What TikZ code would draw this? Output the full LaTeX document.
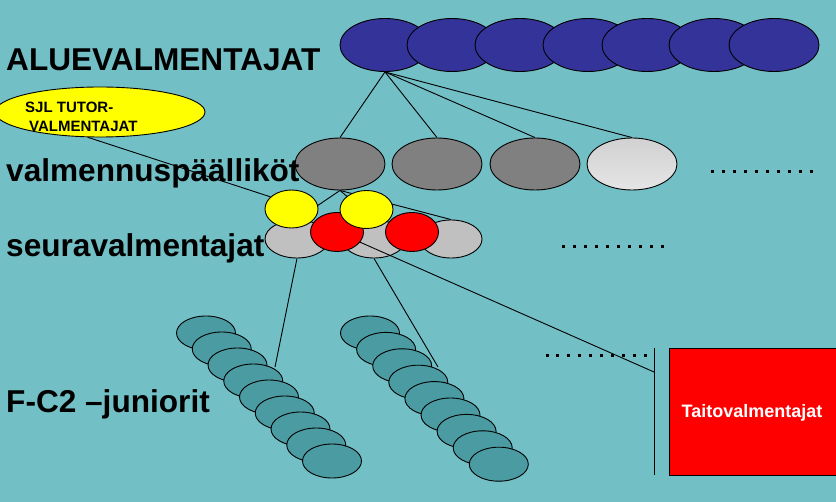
\documentclass[tikz,border=0pt]{standalone}
\usepackage{fontspec}
\setmainfont{Liberation Sans}
\usetikzlibrary{shapes.geometric}
\pgfdeclarelayer{bglayer}
\pgfdeclarelayer{edgelayer}
\pgfsetlayers{bglayer,edgelayer,main}
\definecolor{bgc}{HTML}{72BFC6}
\definecolor{bluec}{HTML}{333399}
\definecolor{grayc}{HTML}{808080}
\definecolor{silverc}{HTML}{C0C0C0}
\definecolor{lightc}{HTML}{DADADA}
\definecolor{tealc}{HTML}{4A9CA2}
\definecolor{yelc}{HTML}{FFFF00}
\definecolor{redc}{HTML}{FF0000}
\begin{document}
\begin{tikzpicture}[x=1pt,y=-1pt,
  oval/.style 2 args={ellipse,draw=black,line width=0.9pt,inner sep=0pt,minimum width=#1,minimum height=#2},
  conn/.style={draw=black,line width=0.9pt},
  biglabel/.style={anchor=base west,inner sep=0pt,font=\bfseries\fontsize{31.6}{32}\selectfont},
  smalllabel/.style={anchor=base west,inner sep=0pt,font=\bfseries\fontsize{15}{15}\selectfont},
  dotsq/.style={fill=black}]
\useasboundingbox (0,0) rectangle (836,502);
\begin{pgfonlayer}{bglayer}
  \fill[bgc] (0,0) rectangle (836,502);
\end{pgfonlayer}

% top row
\foreach \i/\x in {1/385,2/452,3/520,4/588,5/647,6/714,7/774}
  \node[oval={90pt}{53pt},fill=bluec] (b\i) at (\x,45) {};

% valmennuspaallikot
\node[oval={90pt}{52pt},fill=grayc] (g1) at (340,164) {};
\node[oval={90pt}{52pt},fill=grayc] (g2) at (437,164) {};
\node[oval={90pt}{52pt},fill=grayc] (g3) at (535,164) {};
\node[oval={90pt}{52pt},top color=lightc!90!gray,bottom color=lightc!70!white] (g4) at (632,164) {};

% seuravalmentajat
\node[oval={64pt}{38pt},fill=silverc] (s1) at (297,239) {};
\node[oval={64pt}{38pt},fill=silverc] (s2) at (374,239) {};
\node[oval={62pt}{38pt},fill=silverc] (s3) at (451,239) {};
\node[oval={53pt}{39pt},fill=redc] (r1) at (337,232) {};
\node[oval={53pt}{39pt},fill=redc] (r2) at (412,232) {};
\node[oval={53pt}{38pt},fill=yelc] (y1) at (291.5,209) {};
\node[oval={53pt}{38pt},fill=yelc] (y2) at (366.5,209.5) {};

% SJL tutor
\node[oval={210pt}{50pt},fill=yelc] (sjl) at (100,112) {};
\node[smalllabel] (sj1) at (25,113) {SJL TUTOR-};
\node[smalllabel] (sj2) at (29,132) {VALMENTAJAT};

% juniors
\foreach \i in {0,...,8}
  \node[oval={59pt}{34pt},fill=tealc] (ja\i) at ({206+15.75*\i},{333+16*\i}) {};
\foreach \i in {0,...,8}
  \node[oval={59pt}{34pt},fill=tealc] (jb\i) at ({370+16.1*\i},{333+16.4*\i}) {};

% Taitovalmentajat
\node[draw=black,line width=0.9pt,fill=redc,minimum width=172pt,minimum height=127pt,anchor=north west,inner sep=0pt] (tv) at (669,348) {};
\node[anchor=base,inner sep=0pt,text=white,font=\bfseries\fontsize{18}{18}\selectfont] (tvt) at (752,418) {Taitovalmentajat};

% coordinates for free ends
\coordinate (vt) at (654,348);
\coordinate (vb) at (654,475);
\coordinate (vr) at (654,372);
\coordinate (jaend) at (275,367);
\coordinate (jbend) at (438,367);

% connectors behind nodes
\begin{pgfonlayer}{edgelayer}
  \foreach \g in {g1,g2,g3,g4}
    \draw[conn] (b1.south) -- (\g.north);
  \foreach \s in {s1,s2,s3}
    \draw[conn] (g1.south) -- (\s.north);
  \draw[conn] (s1.south) -- (jaend);
  \draw[conn] (s2.south) -- (jbend);
  \draw[conn] (sjl.244) -- (y1.150);
\end{pgfonlayer}
\draw[conn] (r1) -- (vr);
\draw[conn] (vt) -- (vb);

% dotted rows
\foreach \k in {0,...,9} {
  \fill[dotsq] ({712+11.1*\k-1.5},170.5) rectangle ++(3,3);
  \fill[dotsq] ({563+11*\k-1.5},245.5) rectangle ++(3,3);
  \fill[dotsq] ({547+10.9*\k-1.5},354.5) rectangle ++(3,3);
}

% labels
\node[biglabel] (l1) at (6,71) {ALUEVALMENTAJAT};
\node[biglabel] (l2) at (6,182) {valmennuspäälliköt};
\node[biglabel] (l3) at (6,257) {seuravalmentajat};
\node[biglabel] (l4) at (6,413) {F-C2 –juniorit};
\end{tikzpicture}
\end{document}
